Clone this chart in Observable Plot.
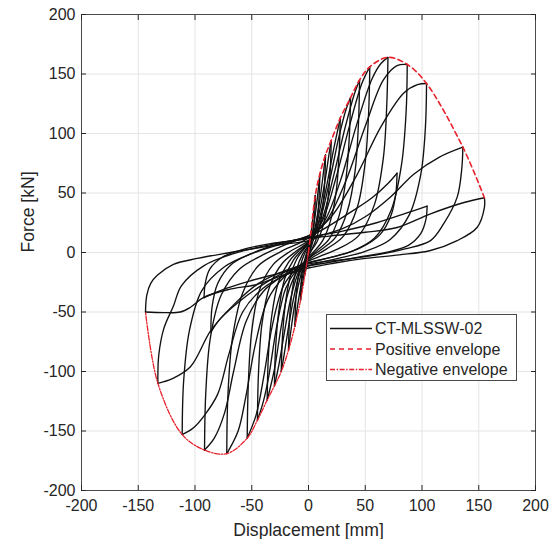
<!DOCTYPE html>
<html>
<head>
<meta charset="utf-8">
<script src="https://cdn.jsdelivr.net/npm/d3@7"></script>
<script src="https://cdn.jsdelivr.net/npm/@observablehq/plot@0.6"></script>
<style>
  html, body { margin: 0; padding: 0; background: #fff; }
  #chart { width: 549px; height: 539px; }
</style>
</head>
<body>
<div id="chart"></div>
<script>
// ---- tick values ----
const xTicks = [-200, -150, -100, -50, 0, 50, 100, 150, 200];
const yTicks = [-200, -150, -100, -50, 0, 50, 100, 150, 200];

// ---- legend labels ----
const seriesNames = ["CT-MLSSW-02", "Positive envelope", "Negative envelope"];

// ---- envelopes (displacement mm, force kN) ----
const posEnvX = [0, 2, 6, 10, 15, 20, 28, 37, 45, 54, 70, 87, 104, 136, 155];
const posEnvF = [0, 16, 48, 66, 82, 94, 113, 130, 145, 156, 164, 158, 142, 88.5, 46];
const negEnvX = [0, -3, -7, -12, -17.6, -24, -30, -36.4, -45, -54, -72, -91.6, -111.3, -132.7, -143.6];
const negEnvF = [0, -18, -40, -62, -82, -100, -112, -124, -141, -156, -169, -166, -153, -110, -50];

// ---- hysteresis loops: key points [displacement, force] ----
const loop01 = [[0,0],[1,8],[2,16],[1.7,8],[1,2],[-0.5,-5],[-1.8,-11],[-3,-18]];
const loop02 = [[-3,-18],[-2.6,-9],[-1.5,-2],[0,5],[2,15],[4,30],[6,48],[5.5,33],[4.2,18],[2.5,7],[0.5,0],[-1.5,-7],[-3.5,-16],[-5.5,-28],[-7,-40]];
const loop03 = [[-7,-40],[-6.5,-26],[-5,-13],[-2.5,-3],[0,4],[3,14],[6,32],[8.5,52],[10,66],[9.4,48],[8,30],[5.5,15],[2.5,5],[0,-2],[-3,-10],[-6,-24],[-9.5,-44],[-12,-62]];
const loop04 = [[-12,-62],[-11.3,-42],[-9.5,-23],[-6.5,-9],[-3,0],[1,7],[5,18],[9,38],[12.5,62],[15,82],[14.3,60],[12.6,38],[9.5,20],[5.5,8],[1.5,0],[-2.5,-7],[-7,-20],[-11.5,-40],[-15,-62],[-17.6,-82]];
const loop05 = [[-17.6,-82],[-16.8,-57],[-14.5,-33],[-10.5,-14],[-5.5,-2],[0,6],[5,16],[10,36],[14.5,60],[18,82],[20,94],[19.2,70],[17,44],[13,23],[7.5,9],[2,1],[-3,-7],[-8,-18],[-13,-38],[-17.5,-62],[-21.5,-86],[-24,-100]];
const loop06 = [[-24,-100],[-23,-72],[-20.5,-44],[-16,-20],[-10,-5],[-3,4],[4,12],[10,30],[16,56],[22,86],[26,104],[28,113],[27,84],[24.5,52],[19.5,27],[12.5,10],[5,1],[-2,-6],[-9,-17],[-15.5,-38],[-21,-66],[-26,-94],[-30,-112]];
const loop07 = [[-30,-112],[-29,-80],[-26,-48],[-21,-22],[-13,-6],[-5,3],[3,11],[11,30],[19,62],[27,98],[33,120],[37,130],[36,98],[33,62],[27,31],[18,11],[8,2],[-1,-6],[-10,-16],[-18,-34],[-24,-62],[-30,-98],[-36.4,-124]];
const loop08 = [[-36.4,-124],[-35.4,-88],[-32.5,-54],[-26.5,-25],[-17.5,-8],[-8,2],[2,10],[12,28],[22,64],[32,104],[40,132],[45,145],[44,108],[41,68],[34,34],[24,13],[12,3],[0,-5],[-10,-14],[-20,-30],[-28,-62],[-35,-104],[-40,-126],[-45,-141]];
const loop09 = [[-45,-141],[-44,-100],[-41,-60],[-34,-28],[-23,-9],[-11,1],[0,9],[12,26],[24,62],[36,106],[47,142],[54,156],[53,118],[50,76],[43,38],[31,14],[16,3],[2,-5],[-10,-13],[-22,-28],[-32,-62],[-39,-102],[-46,-136],[-54,-156]];
const loop10 = [[-54,-156],[-53,-110],[-50,-66],[-43,-31],[-31,-10],[-16,1],[0,10],[14,26],[28,60],[42,106],[56,146],[64,159],[70,164],[69,125],[66,80],[58,40],[44,14],[26,3],[8,-4],[-8,-11],[-22,-21],[-36,-40],[-47,-78],[-55,-120],[-62,-150],[-72,-169]];
const loop11 = [[-72,-169],[-71,-120],[-67,-72],[-58,-34],[-44,-11],[-24,1],[-4,10],[14,24],[32,58],[50,106],[66,145],[78,157],[87,158],[86,118],[82,74],[73,36],[58,12],[38,1],[16,-5],[-4,-10],[-22,-19],[-40,-33],[-55,-58],[-66,-100],[-74,-135],[-83,-156],[-91.6,-166]];
const loop12 = [[-91.6,-166],[-90.5,-118],[-86.5,-72],[-77,-36],[-61,-14],[-38,-1],[-14,9],[10,18],[34,32],[56,46],[70,58],[78,66.6],[77,50],[73,32],[63,15],[46,4],[24,-3],[2,-8],[-20,-16],[-42,-28],[-62,-42],[-78,-56],[-86,-67]];
const loop13 = [[-86,-67],[-85,-46],[-80,-26],[-68,-10],[-48,0],[-24,8],[0,14],[20,30],[42,64],[64,106],[84,134],[96,141],[104,142],[103,105],[99,66],[89,32],[72,11],[50,1],[26,-5],[4,-10],[-18,-18],[-40,-30],[-58,-50],[-70,-85],[-80,-119],[-91,-136],[-101,-147],[-111.3,-153]];
const loop14 = [[-111.3,-153],[-110,-108],[-105,-66],[-94,-32],[-74,-12],[-50,-1],[-24,7],[2,13],[30,18],[60,25],[86,33],[104.5,39],[103.5,28],[99,16],[88,6],[68,0],[44,-4],[20,-8],[-4,-12],[-28,-18],[-52,-24],[-72,-30],[-92,-38]];
const loop15 = [[-92,-38],[-91,-26],[-87,-14],[-76,-4],[-56,3],[-30,8],[0,12],[30,20],[50,30],[72,46.5],[93,66],[115,80],[136,88.5],[135,70],[131,46.5],[119,24],[107.5,10],[85,3],[60,-2],[30,-6],[4,-9],[-20,-15],[-44,-26],[-66,-44],[-86,-65.5],[-104,-96],[-120,-106],[-132.7,-110]];
const loop16 = [[-132.7,-110],[-132,-87],[-127.5,-64],[-119,-45],[-112,-28],[-92,-11],[-66,-1],[-36,6],[-8,11],[20,14],[50,17],[78,21],[107.5,32.5],[137,42],[155,46],[155,38],[148.5,21],[131,10],[107.5,1.7],[80,-2],[50,-5],[22,-9],[0,-13],[-22,-19],[-46,-27],[-70,-31],[-92,-37.5],[-104,-46],[-113,-50],[-128,-50.5],[-143.6,-50]];
const loop17 = [[-143.6,-50],[-142.5,-36],[-139,-26],[-133,-19],[-119,-10],[-98,-5],[-69,0],[-30,6],[0,10],[12,14]];

const loops = [loop01, loop02, loop03, loop04, loop05, loop06, loop07, loop08, loop09,
               loop10, loop11, loop12, loop13, loop14, loop15, loop16, loop17];

// split each loop at its positive tip so the tips stay sharp
const branches = [];
loops.forEach((lp, i) => {
  let iP = 0;
  lp.forEach((p, j) => { if (p[0] > lp[iP][0]) iP = j; });
  lp.slice(0, iP + 1).forEach(p => branches.push({x: p[0], y: p[1], z: i + "-up"}));
  if (iP < lp.length - 1) lp.slice(iP).forEach(p => branches.push({x: p[0], y: p[1], z: i + "-dn"}));
});
const posEnv = posEnvX.map((x, i) => ({x, y: posEnvF[i]}));
const negEnv = negEnvX.map((x, i) => ({x, y: negEnvF[i]}));

const RED = "#e8202b";
const INK = "#262626";
const FONT = "'Liberation Sans', Arial, Helvetica, sans-serif";
const fmt = d => String(d);

const chart = Plot.plot({
  width: 549,
  height: 539,
  marginLeft: 81,
  marginRight: 14,
  marginTop: 14,
  marginBottom: 49,
  style: {fontFamily: FONT, fontSize: "16px", color: INK, background: "#fff"},
  x: {domain: [-200, 200], label: null},
  y: {domain: [-200, 200], label: null},
  marks: [
    Plot.gridX(xTicks, {stroke: "#e4e4e4", strokeOpacity: 1}),
    Plot.gridY(yTicks, {stroke: "#e4e4e4", strokeOpacity: 1}),
    Plot.line(branches, {x: "x", y: "y", z: "z", curve: "catmull-rom", stroke: "#111", strokeWidth: 1.35}),
    Plot.line(posEnv, {x: "x", y: "y", curve: "catmull-rom", stroke: RED, strokeWidth: 1.6, strokeDasharray: "5,3.5"}),
    Plot.line(negEnv, {x: "x", y: "y", curve: "catmull-rom", stroke: RED, strokeWidth: 1.3, strokeDasharray: "5,1.6,1.4,1.6"}),
    Plot.frame({stroke: "#4a4a4a", strokeWidth: 1}),
    Plot.axisX(xTicks, {anchor: "bottom", tickSize: 0, tickPadding: 9, tickFormat: fmt, label: null}),
    Plot.axisY(yTicks, {anchor: "left", tickSize: 0, tickPadding: 6, tickFormat: fmt, label: null}),
    Plot.axisX(xTicks, {anchor: "bottom", tickSize: -5, tickFormat: () => "", label: null, stroke: INK}),
    Plot.axisX(xTicks, {anchor: "top", tickSize: -5, tickFormat: () => "", label: null, stroke: INK}),
    Plot.axisY(yTicks, {anchor: "left", tickSize: -5, tickFormat: () => "", label: null, stroke: INK}),
    Plot.axisY(yTicks, {anchor: "right", tickSize: -5, tickFormat: () => "", label: null, stroke: INK}),
    Plot.text(["Displacement [mm]"], {frameAnchor: "bottom", dy: 45, text: d => d, fontSize: 17.6, fill: INK}),
    Plot.text(["Force [kN]"], {frameAnchor: "left", dx: -53, rotate: -90, text: d => d, fontSize: 17.6, fill: INK})
  ]
});
document.getElementById("chart").appendChild(chart);

// ---- legend inside the axes (bottom-right) ----
const svg = d3.select(chart);
const lg = svg.append("g").attr("font-family", FONT).attr("font-size", 16).attr("fill", INK)
  .attr("text-anchor", "start");
lg.append("rect").attr("x", 326.5).attr("y", 314.5).attr("width", 190).attr("height", 66)
  .attr("fill", "#fff").attr("stroke", "#4a4a4a").attr("stroke-width", 1);
const legendStyles = [
  {stroke: "#111", width: 1.35, dash: null},
  {stroke: RED, width: 1.6, dash: "5,4"},
  {stroke: RED, width: 1.3, dash: "5,1.6,1.4,1.6"}
];
seriesNames.forEach((name, i) => {
  const yy = 328.5 + i * 20.5;
  const st = legendStyles[i];
  const ln = lg.append("line").attr("x1", 330).attr("x2", 372).attr("y1", yy).attr("y2", yy)
    .attr("stroke", st.stroke).attr("stroke-width", st.width);
  if (st.dash) ln.attr("stroke-dasharray", st.dash);
  lg.append("text").attr("x", 375).attr("y", yy).attr("dy", "0.35em")
    .attr("text-anchor", "start").text(name);
});
</script>
</body>
</html>
